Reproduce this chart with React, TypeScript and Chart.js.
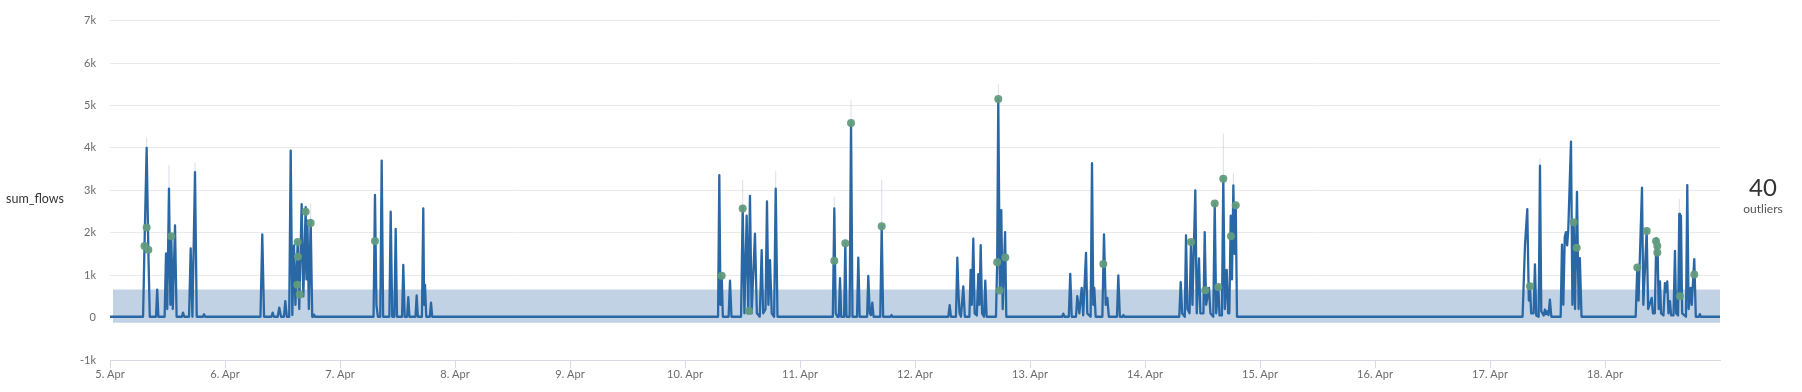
import { useEffect, useRef } from 'react';
import { Chart, registerables } from 'chart.js';

Chart.register(...registerables);

// x values are hours since 5. Apr 00:00
const dayLabels = ['5. Apr', '6. Apr', '7. Apr', '8. Apr', '9. Apr', '10. Apr', '11. Apr', '12. Apr', '13. Apr', '14. Apr', '15. Apr', '16. Apr', '17. Apr', '18. Apr'];
const yTickValues = [-1000, 0, 1000, 2000, 3000, 4000, 5000, 6000, 7000];
const yTickLabels = ['-1k', '0', '1k', '2k', '3k', '4k', '5k', '6k', '7k'];

const sumFlows: [number, number][] = [
  [0, 20],
  [6.9, 20], [7.2, 1690], [7.65, 4000], [8.0, 1600], [8.3, 20],
  [9.6, 20], [9.85, 660], [10.1, 20],
  [11.4, 20], [11.69, 1510], [11.95, 200], [12.31, 3040], [12.6, 300], [12.79, 1915], [13.1, 200], [13.57, 2170], [13.9, 20],
  [15.0, 20], [15.23, 116], [15.5, 20],
  [16.5, 20], [16.84, 1630], [17.2, 20], [17.74, 3425], [18.1, 20],
  [19.4, 20], [19.62, 78], [19.9, 20],
  [31.4, 20], [31.78, 1960], [32.15, 20],
  [33.7, 20], [33.95, 116], [34.2, 20],
  [35.0, 20], [35.33, 232], [35.7, 20],
  [36.3, 20], [36.58, 388], [36.9, 20],
  [37.4, 20], [37.71, 3937], [38.05, 60],
  [38.4, 1700], [38.7, 300], [39.17, 1782], [39.5, 200], [40.0, 2674], [40.35, 500], [40.84, 2600], [41.0, 900], [41.2, 2286], [41.5, 200], [41.88, 2300], [42.2, 20],
  [42.45, 20], [42.6, 70], [42.8, 20],
  [55.0, 20], [55.3, 2890], [55.6, 300], [55.9, 20],
  [56.4, 20], [56.7, 3700], [57.0, 20],
  [58.3, 20], [58.58, 2496], [58.9, 20],
  [59.35, 20], [59.62, 2093], [59.9, 20],
  [60.95, 20], [61.21, 1240], [61.5, 20],
  [62.0, 20], [62.25, 480], [62.5, 20],
  [63.75, 20], [64.0, 520], [64.25, 20],
  [65.1, 20], [65.38, 2573], [65.55, 300], [65.74, 775], [66.0, 20],
  [66.75, 20], [66.99, 350], [67.25, 20],
  [126.9, 20], [127.16, 3356], [127.4, 300], [127.66, 984], [127.9, 20],
  [129.1, 20], [129.39, 868], [129.7, 20],
  [131.7, 20], [132.04, 2600], [132.4, 100], [132.87, 2400], [133.2, 100], [133.56, 2870], [133.9, 100], [134.6, 1976], [135.0, 100], [135.6, 20], [136.0, 1590], [136.3, 100], [136.8, 200], [137.11, 2736], [137.4, 300], [137.74, 1356], [138.1, 100], [138.6, 20], [138.93, 3038], [139.3, 20],
  [150.85, 20], [151.16, 2573], [151.45, 100], [151.8, 20],
  [152.1, 20], [152.35, 930], [152.6, 20],
  [153.2, 20], [153.46, 1751], [153.7, 20],
  [154.35, 20], [154.65, 4588], [154.95, 20],
  [155.9, 20], [156.17, 1410], [156.45, 20],
  [158.0, 20], [158.25, 984], [158.55, 100], [158.8, 60], [159.09, 350], [159.35, 20],
  [160.75, 20], [161.05, 2155], [161.35, 20],
  [162.9, 20], [163.1, 60], [163.3, 20],
  [174.95, 20], [175.24, 295], [175.5, 20],
  [176.55, 20], [176.83, 1410], [177.1, 500], [177.3, 100], [177.6, 20], [178.08, 736], [178.4, 20],
  [179.35, 20], [179.62, 1124], [179.85, 300], [180.17, 1860], [180.45, 100], [180.9, 50], [181.21, 1023], [181.45, 300], [181.71, 1705], [182.0, 100], [182.4, 20], [182.67, 868], [182.95, 20],
  [184.9, 20], [185.15, 1302], [185.38, 5154], [185.7, 636], [186.0, 2534], [186.3, 200], [186.8, 2015], [187.05, 20],
  [198.7, 20], [198.95, 93], [199.2, 20],
  [200.1, 20], [200.4, 1030], [200.7, 20],
  [201.6, 20], [201.87, 504], [202.3, 100], [202.79, 698], [203.1, 50], [203.69, 1527], [203.95, 100],
  [204.65, 20], [204.94, 3642], [205.2, 300], [205.42, 698], [205.7, 20],
  [207.1, 20], [207.44, 1961], [207.8, 300], [208.14, 465], [208.45, 20],
  [210.15, 20], [210.43, 992], [210.75, 20],
  [211.3, 20], [211.5, 60], [211.7, 20],
  [223.15, 20], [223.45, 837], [223.75, 100], [224.3, 20], [224.56, 1937], [224.85, 200], [225.3, 100], [225.6, 1800], [225.9, 300], [226.5, 3000], [226.8, 100], [227.27, 1395], [227.55, 100], [228.2, 100], [228.46, 2015], [228.75, 300], [229.36, 698], [229.65, 100],
  [230.25, 20], [230.55, 2689], [230.85, 100], [231.3, 720], [231.55, 50], [232.05, 50], [232.34, 3270], [232.65, 200], [233.05, 1124], [233.35, 100], [233.6, 100], [233.89, 2400], [234.15, 900], [234.44, 3115], [234.7, 1500], [234.94, 2650], [235.2, 20],
  [294.8, 20], [295.3, 1700], [295.78, 2557], [296.1, 400], [296.34, 736], [296.6, 100], [297.1, 100], [297.38, 1255], [297.65, 50],
  [298.15, 20], [298.43, 3580], [298.7, 150], [299.2, 50], [299.47, 190], [299.7, 80], [300.0, 150], [300.2, 60], [300.5, 425], [300.8, 20],
  [302.75, 20], [303.02, 1720], [303.3, 300], [303.6, 1900], [303.85, 2015], [304.1, 1700], [304.33, 2050], [304.9, 4146], [305.2, 300], [305.46, 2248], [305.75, 200], [306.15, 2960], [306.5, 200], [306.75, 1400], [307.1, 20],
  [318.4, 20], [318.74, 1178], [319.0, 400], [319.72, 3060], [320.0, 300], [320.7, 2050], [321.0, 200], [321.75, 465], [322.0, 100], [322.4, 100], [322.7, 1875], [323.0, 1500], [323.2, 200], [323.47, 852], [323.7, 100],
  [324.2, 50], [324.51, 814], [324.75, 600], [324.99, 852], [325.25, 100], [325.55, 388], [325.8, 50], [326.3, 50], [326.6, 1573], [326.85, 100], [327.25, 50], [327.5, 2441], [327.64, 504], [327.85, 2400], [328.1, 100],
  [328.9, 20], [329.17, 3123], [329.45, 200], [329.88, 698], [330.1, 300], [330.63, 1380], [330.95, 20],
  [331.6, 20], [331.8, 80], [332.0, 20],
  [336, 20],
];

const outliers: [number, number][] = [
  [7.2, 1690], [7.65, 2124], [7.99, 1596], [12.79, 1915],
  [39.1, 775], [39.17, 1782], [39.22, 1434], [39.6, 542], [40.84, 2496], [41.88, 2232],
  [55.3, 1806],
  [127.66, 984], [132.04, 2573], [133.35, 155], [151.16, 1340], [153.46, 1751], [154.65, 4588], [161.05, 2155],
  [185.15, 1302], [185.38, 5154], [185.66, 636], [186.85, 1418],
  [207.3, 1263], [225.6, 1782], [228.59, 643], [230.55, 2689], [231.3, 720], [232.34, 3270], [233.95, 1914], [234.94, 2650],
  [296.34, 736], [305.46, 2248], [306.09, 1643], [318.74, 1178], [320.7, 2038], [322.65, 1798], [322.92, 1690], [322.92, 1535], [327.64, 504], [330.63, 1015],
];

// expected-range band
const bandHours = [0.6, 336];
const bandLow = [-120, -120];
const bandHigh = [660, 660];

// faint upper-bound flares above some peaks: [hour, from, to]
const upperFlares: [number, number, number][] = [
  [7.65, 4000, 4250], [12.31, 1510, 3600], [17.74, 3425, 3650], [41.88, 2300, 2700],
  [132.04, 2600, 3250], [138.93, 3038, 3450], [151.16, 2573, 2850],
  [154.65, 4588, 5120], [161.05, 2155, 3250], [185.38, 5154, 5500],
  [232.34, 3270, 4340], [234.44, 3115, 3400], [298.43, 3580, 3750], [327.5, 2441, 2800],
];

const outlierCount = outliers.length;

const FONT = 'Lato, "Open Sans", sans-serif';

export default function App() {
  const ref = useRef<HTMLCanvasElement>(null);

  useEffect(() => {
    if (!ref.current) return;
    const flareData: any[] = [];
    upperFlares.forEach(([x, a, b]) => {
      flareData.push({ x, y: a }, { x, y: b }, { x, y: null });
    });
    const chart = new Chart(ref.current, {
      type: 'line',
      data: {
        datasets: [
          {
            label: 'outliers',
            data: outliers.map(([x, y]) => ({ x, y })),
            showLine: false,
            pointRadius: 4,
            pointBackgroundColor: 'rgba(98,155,125,0.95)',
            pointBorderWidth: 0,
            borderColor: 'transparent',
            order: 0,
          },
          {
            label: 'sum_flows',
            data: sumFlows.map(([x, y]) => ({ x, y })),
            borderColor: '#2a67a5',
            borderWidth: 2.3,
            borderJoinStyle: 'round',
            pointRadius: 0,
            tension: 0,
            fill: false,
            order: 1,
          },
          {
            label: 'flares',
            data: flareData,
            borderColor: 'rgba(185,175,215,0.45)',
            borderWidth: 1,
            pointRadius: 0,
            spanGaps: false,
            fill: false,
            order: 2,
          },
          {
            label: 'upper',
            data: bandHours.map((x, i) => ({ x, y: bandHigh[i] })),
            borderColor: 'transparent',
            borderWidth: 0,
            pointRadius: 0,
            fill: '+1',
            backgroundColor: '#c1d2e4',
            order: 3,
          },
          {
            label: 'lower',
            data: bandHours.map((x, i) => ({ x, y: bandLow[i] })),
            borderColor: 'transparent',
            borderWidth: 0,
            pointRadius: 0,
            fill: false,
            order: 4,
          },
        ],
      },
      options: {
        responsive: false,
        animation: false,
        layout: { padding: { left: 0, right: 82, top: 15, bottom: 0 } },
        plugins: { legend: { display: false }, tooltip: { enabled: false } },
        scales: {
          x: {
            type: 'linear',
            min: 0,
            max: 336,
            afterBuildTicks: (s: any) => {
              s.ticks = dayLabels.map((_, i) => ({ value: i * 24 }));
            },
            afterFit: (s: any) => {
              s.height = 32;
            },
            ticks: {
              callback: (v: any) => dayLabels[Math.round(Number(v) / 24)] ?? '',
              font: { family: FONT, size: 11 },
              color: '#6b6b6b',
              maxRotation: 0,
              autoSkip: false,
              padding: 0,
            },
            grid: { drawOnChartArea: false, drawTicks: true, tickLength: 8, color: '#d9d9e6' },
            border: { color: '#d9d9e6', width: 1 },
          },
          y: {
            min: -1000,
            max: 7000,
            afterBuildTicks: (s: any) => {
              s.ticks = yTickValues.map((v) => ({ value: v }));
            },
            afterFit: (s: any) => {
              s.width = 110;
            },
            ticks: {
              callback: (v: any) => yTickLabels[yTickValues.indexOf(Number(v))] ?? '',
              font: { family: FONT, size: 11 },
              color: '#6b6b6b',
              padding: 14,
            },
            grid: { drawTicks: false, color: '#ebe8ee' },
            border: { display: false },
          },
        },
      },
    });
    return () => chart.destroy();
  }, []);

  return (
    <div style={{ position: 'absolute', left: 0, top: 0, width: 1802, height: 392, background: '#fff', overflow: 'hidden' }}>
      <canvas ref={ref} width={1802} height={392} style={{ width: 1802, height: 392, display: 'block' }} />
      <div style={{ position: 'absolute', left: 6, top: 198, transform: 'translateY(-50%)', fontFamily: FONT, fontSize: 12.5, color: '#333' }}>
        sum_flows
      </div>
      <div style={{ position: 'absolute', left: 1763, top: 187, transform: 'translate(-50%,-50%)', fontFamily: FONT, fontSize: 24, color: '#333', lineHeight: 1 }}>
        {outlierCount}
      </div>
      <div style={{ position: 'absolute', left: 1763, top: 209, transform: 'translate(-50%,-50%)', fontFamily: FONT, fontSize: 12, color: '#555', lineHeight: 1 }}>
        outliers
      </div>
    </div>
  );
}
